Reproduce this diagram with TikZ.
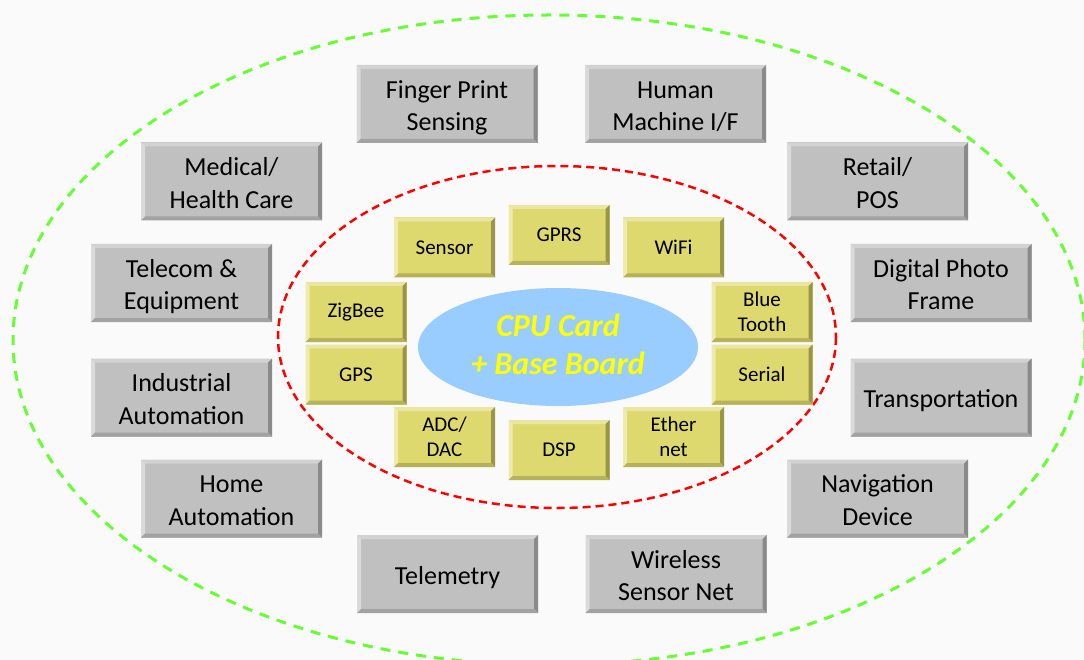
\documentclass[tikz,border=0pt]{standalone}
\usepackage{fontspec}
\setmainfont{Carlito}
\usetikzlibrary{calc,shapes.geometric}

\definecolor{bgpaper}{HTML}{FAFAFA}
\definecolor{gface}{HTML}{C0C0C0}
\definecolor{gtop}{HTML}{D2D2D2}
\definecolor{gleft}{HTML}{DADADA}
\definecolor{gright}{HTML}{8A8A8A}
\definecolor{gbottom}{HTML}{A2A2A2}
\definecolor{yface}{HTML}{DED96E}
\definecolor{ytop}{HTML}{E9E6A2}
\definecolor{yleft}{HTML}{EEEBB0}
\definecolor{yright}{HTML}{9A9648}
\definecolor{ybottom}{HTML}{B6B25A}
\definecolor{cpublue}{HTML}{99CCFF}
\definecolor{cputext}{HTML}{FFFF00}
\definecolor{ringred}{HTML}{FF0000}
\definecolor{ringgreen}{HTML}{66FF33}

\tikzset{
  % raised button: face colour, then top, left, right and bottom edge colours
  bevel/.style n args={5}{
    fill=#1,
    path picture={
      \coordinate (bl) at (path picture bounding box.south west);
      \coordinate (tr) at (path picture bounding box.north east);
      \fill[#2] (bl|-tr) -- (tr) -- ($(tr)+(-4pt,-4pt)$) -- ($(bl|-tr)+(4pt,-4pt)$) -- cycle;
      \fill[#3] (bl) -- (bl|-tr) -- ($(bl|-tr)+(4pt,-4pt)$) -- ($(bl)+(4pt,4pt)$) -- cycle;
      \fill[#4] (tr) -- (tr|-bl) -- ($(tr|-bl)+(-4pt,4pt)$) -- ($(tr)+(-4pt,-4pt)$) -- cycle;
      \fill[#5] (bl) -- (tr|-bl) -- ($(tr|-bl)+(-4pt,4pt)$) -- ($(bl)+(4pt,4pt)$) -- cycle;
    }
  },
  appbox/.style={
    bevel={gface}{gtop}{gleft}{gright}{gbottom},
    minimum width=181pt, minimum height=78pt, inner sep=0pt, outer sep=0pt,
    align=center, text=black, font=\fontsize{26}{32.5}\selectfont,
    text height=55.4pt, text depth=2pt
  },
  % single-line label: the text box is one line tall
  oneline/.style={text height=22.8pt, text depth=2pt},
  ifbox/.style={
    bevel={yface}{ytop}{yleft}{yright}{ybottom},
    minimum width=101pt, minimum height=60pt, inner sep=0pt, outer sep=0pt,
    align=center, text=black, font=\fontsize{21}{25}\selectfont
  },
  core/.style={
    ellipse, fill=cpublue, minimum width=280pt, minimum height=118pt,
    inner sep=0pt, align=center, text=cputext,
    font=\fontsize{32}{38}\selectfont\bfseries\itshape,
    text height=56.6pt, text depth=2pt
  },
  innerring/.style={draw=ringred, line width=2.5pt, dash pattern=on 8pt off 5pt},
  outerring/.style={draw=ringgreen, line width=3pt, dash pattern=on 10pt off 8pt}
}

\begin{document}
\begin{tikzpicture}[x=1pt, y=-1pt]
  \fill[bgpaper] (0,0) rectangle (1084,660);
  \useasboundingbox (0,0) rectangle (1084,660);

  % outer application ring
  \begin{scope}
    \clip (0,0) rectangle (1084,660);
    \draw[outerring] (549,340) ellipse [x radius=536, y radius=325];
  \end{scope}

  % inner interface ring
  \draw[innerring] (557,337) ellipse [x radius=279, y radius=171];

  % core
  \node[core] (cpu) at (558,347) {CPU Card\\+ Base Board};

  % interfaces
  \node[ifbox] (sensor) at (444.5,247.5) {Sensor};
  \node[ifbox] (gprs)   at (559,235)     {GPRS};
  \node[ifbox] (wifi)   at (673.5,247.5) {WiFi};
  \node[ifbox] (zigbee) at (356,312)     {ZigBee};
  \node[ifbox] (bt)     at (762,312)     {Blue\\Tooth};
  \node[ifbox] (gps)    at (356,374.5)   {GPS};
  \node[ifbox] (serial) at (762,374.5)   {Serial};
  \node[ifbox] (adc)    at (444.5,437)   {ADC/\\DAC};
  \node[ifbox] (dsp)    at (559,450)     {DSP};
  \node[ifbox] (eth)    at (673.5,437)   {Ether\\net};

  % applications
  \node[appbox] (finger)  at (447,104)     {Finger Print\\Sensing};
  \node[appbox] (hmi)     at (675.5,104)   {Human\\Machine I/F};
  \node[appbox] (medical) at (231.5,181.5) {Medical/\\Health Care};
  \node[appbox] (retail)  at (877.5,181.5) {Retail/\\POS};
  \node[appbox] (telecom) at (181.5,283)   {Telecom \&\\Equipment};
  \node[appbox] (photo)   at (941,283)     {Digital Photo\\Frame};
  \node[appbox] (indus)   at (181.5,397.5) {Industrial\\Automation};
  \node[appbox, oneline] (trans) at (941,397.5) {Transportation};
  \node[appbox] (home)    at (231.5,498.5) {Home\\Automation};
  \node[appbox] (navi)    at (877.5,498.5) {Navigation\\Device};
  \node[appbox, oneline] (telem) at (447.5,574) {Telemetry};
  \node[appbox] (wsn)     at (676,574)     {Wireless\\Sensor Net};
\end{tikzpicture}
\end{document}
